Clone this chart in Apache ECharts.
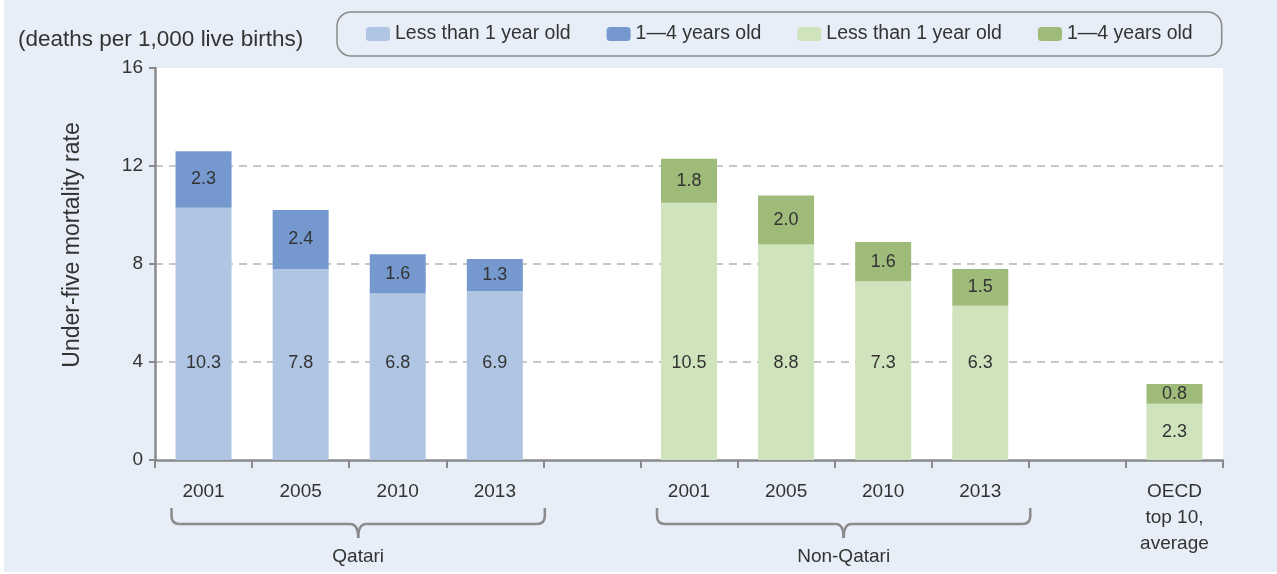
<!DOCTYPE html>
<html>
<head>
<meta charset="utf-8">
<script src="https://cdn.jsdelivr.net/npm/echarts@6/dist/echarts.min.js"></script>
<style>
  body { margin: 0; background: #fff; }
  #chart { position: absolute; left: 4px; top: 0; width: 1273px; height: 572px; }
</style>
</head>
<body>
<div id="chart"></div>
<script>
  // categories (empty slots are the gaps between groups)
  const categories = ['2001', '2005', '2010', '2013', '', '2001', '2005', '2010', '2013', '', 'OECD\ntop 10,\naverage'];
  const qatariUnder1 = [10.3, 7.8, 6.8, 6.9, '-', '-', '-', '-', '-', '-', '-'];
  const qatari1to4 = [2.3, 2.4, 1.6, 1.3, '-', '-', '-', '-', '-', '-', '-'];
  const nonQatariUnder1 = ['-', '-', '-', '-', '-', 10.5, 8.8, 7.3, 6.3, '-', 2.3];
  const nonQatari1to4 = ['-', '-', '-', '-', '-', 1.8, 2.0, 1.6, 1.5, '-', 0.8];
  const legendNames = {
    qUnder1: 'Less than 1 year old',
    q1to4: '1—4 years old',
    nUnder1: 'Less than 1 year old',
    n1to4: '1—4 years old'
  };
  const groups = [
    { name: 'Qatari', from: 0, to: 3 },
    { name: 'Non-Qatari', from: 5, to: 8 }
  ];

  const FONT = '"Liberation Sans", Arial, sans-serif';
  const TXT = '#333';
  const AXIS = '#8a8a8a';

  const labelFmt = p => (typeof p.value === 'number' ? p.value.toFixed(1) : '');

  // under-1 labels sit at a fixed height, except on the short OECD bar
  function bottomData(arr) {
    return arr.map(v => {
      if (typeof v === 'number' && v < 4) {
        return { value: v, label: { position: 'inside', distance: 0 } };
      }
      return v;
    });
  }

  const barLabel = {
    show: true,
    color: TXT,
    fontFamily: FONT,
    fontSize: 18,
    formatter: labelFmt
  };

  const myChart = echarts.init(document.getElementById('chart'));

  const option = {
    backgroundColor: '#e7eef8',
    animation: false,
    textStyle: { fontFamily: FONT },
    grid: {
      left: 151, right: 54, top: 68, bottom: 112,
      show: true, backgroundColor: '#fff', borderWidth: 0
    },
    legend: {
      data: ['qUnder1', 'q1to4', 'nUnder1', 'n1to4'],
      formatter: n => legendNames[n],
      left: 333,
      top: 12,
      padding: [12, 29],
      itemGap: 36,
      itemWidth: 24,
      itemHeight: 14,
      borderColor: '#8a8a8a',
      borderWidth: 1.5,
      borderRadius: 14,
      textStyle: { color: TXT, fontSize: 19.5, fontFamily: FONT },
      selectedMode: false
    },
    xAxis: {
      type: 'category',
      data: categories,
      axisLine: { lineStyle: { color: AXIS, width: 2.5 } },
      axisTick: { show: true, length: 8, lineStyle: { color: AXIS, width: 2 } },
      axisLabel: {
        color: TXT, fontSize: 19, fontFamily: FONT,
        margin: 19, lineHeight: 26, interval: 0
      }
    },
    yAxis: {
      type: 'value',
      min: 0, max: 16, interval: 4,
      axisLine: { show: true, lineStyle: { color: AXIS, width: 2.5 } },
      axisTick: { show: true, length: 6, lineStyle: { color: AXIS, width: 2 } },
      axisLabel: { color: TXT, fontSize: 19, fontFamily: FONT, margin: 12 },
      splitLine: {
        show: true,
        showMinLine: false,
        showMaxLine: false,
        lineStyle: { color: '#b5b5b5', type: [8, 6], width: 1.5 }
      }
    },
    series: [
      {
        name: 'qUnder1', type: 'bar', stack: 'total', barWidth: 56,
        itemStyle: { color: '#afc5e3' },
        label: Object.assign({ position: 'insideBottom', distance: 88 }, barLabel),
        data: bottomData(qatariUnder1)
      },
      {
        name: 'q1to4', type: 'bar', stack: 'total', barWidth: 56,
        itemStyle: { color: '#7599cf' },
        label: Object.assign({ position: 'inside' }, barLabel),
        data: qatari1to4
      },
      {
        name: 'nUnder1', type: 'bar', stack: 'total', barWidth: 56,
        itemStyle: { color: '#cfe3bc' },
        label: Object.assign({ position: 'insideBottom', distance: 88 }, barLabel),
        data: bottomData(nonQatariUnder1)
      },
      {
        name: 'n1to4', type: 'bar', stack: 'total', barWidth: 56,
        itemStyle: { color: '#9ebb79' },
        label: Object.assign({ position: 'inside' }, barLabel),
        data: nonQatari1to4
      }
    ]
  };
  myChart.setOption(option);

  // braces under the category groups, placed from the axis scale
  const y0 = myChart.convertToPixel({ yAxisIndex: 0 }, 0);
  const stroke = { stroke: AXIS, lineWidth: 2.5, fill: 'none' };
  const graphics = [
    {
      type: 'text', x: 14, y: 40,
      style: {
        text: '(deaths per 1,000 live births)', fill: TXT, fontSize: 22.5, fontFamily: FONT,
        verticalAlign: 'middle'
      }
    },
    {
      type: 'text', x: 69, y: 245, rotation: Math.PI / 2,
      style: {
        text: 'Under-five mortality rate', fill: TXT, fontSize: 23, fontFamily: FONT,
        align: 'center', verticalAlign: 'middle'
      }
    }
  ];
  groups.forEach(g => {
    const x1 = myChart.convertToPixel({ xAxisIndex: 0 }, g.from) - 32;
    const x2 = myChart.convertToPixel({ xAxisIndex: 0 }, g.to) + 50;
    const xm = (x1 + x2) / 2;
    const top = y0 + 48, mid = y0 + 64, tip = y0 + 78;
    const r = 8;
    const parts = [
      { type: 'line', shape: { x1: x1, y1: top, x2: x1, y2: mid - r } },
      { type: 'bezierCurve', shape: { x1: x1, y1: mid - r, cpx1: x1, cpy1: mid, x2: x1 + r, y2: mid } },
      { type: 'line', shape: { x1: x1 + r, y1: mid, x2: xm - r, y2: mid } },
      { type: 'bezierCurve', shape: { x1: xm - r, y1: mid, cpx1: xm, cpy1: mid, x2: xm, y2: tip } },
      { type: 'bezierCurve', shape: { x1: xm + r, y1: mid, cpx1: xm, cpy1: mid, x2: xm, y2: tip } },
      { type: 'line', shape: { x1: xm + r, y1: mid, x2: x2 - r, y2: mid } },
      { type: 'bezierCurve', shape: { x1: x2 - r, y1: mid, cpx1: x2, cpy1: mid, x2: x2, y2: mid - r } },
      { type: 'line', shape: { x1: x2, y1: mid - r, x2: x2, y2: top } }
    ];
    parts.forEach(p => {
      p.style = stroke;
      graphics.push(p);
    });
    graphics.push({
      type: 'text', x: xm, y: y0 + 97,
      style: {
        text: g.name, fill: TXT, fontSize: 19, fontFamily: FONT,
        align: 'center', verticalAlign: 'middle'
      }
    });
  });
  myChart.setOption({ graphic: graphics });
</script>
</body>
</html>
